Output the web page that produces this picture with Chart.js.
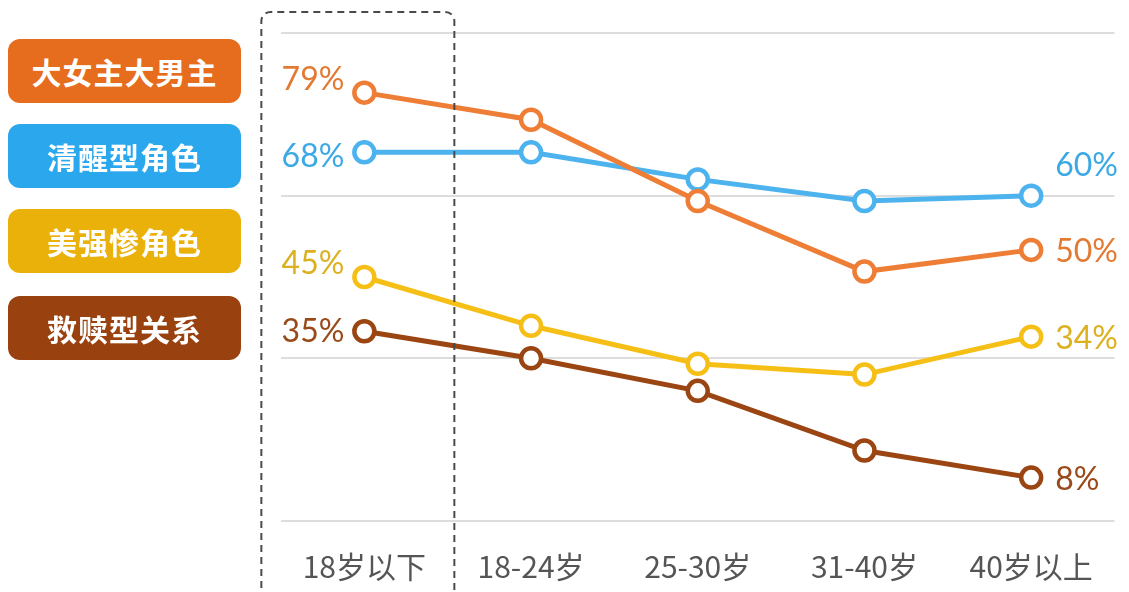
<!DOCTYPE html>
<html><head><meta charset="utf-8">
<script src="https://cdn.jsdelivr.net/npm/chart.js@4.4.0/dist/chart.umd.min.js"></script>
<style>
html,body{margin:0;padding:0;background:#fff;width:1129px;height:592px;overflow:hidden;}
#wrap{position:relative;width:1129px;height:592px;}
canvas{position:absolute;left:0;top:0;}
.lg{position:absolute;left:8px;width:233px;height:64px;border-radius:12px;color:#fff;font:bold 30px "Noto Sans CJK SC",sans-serif;display:flex;align-items:center;justify-content:center;letter-spacing:1px;}
</style></head>
<body><div id="wrap"><canvas id="c" width="1129" height="592"></canvas><div id="legend"></div></div>
<script>
const categories = ["18岁以下","18-24岁","25-30岁","31-40岁","40岁以上"];
const seriesNames = ["大女主大男主","清醒型角色","美强惨角色","救赎型关系"];
const valuesHeroine = [79, 74, 59, 46, 50];
const valuesSober = [68, 68, 63, 59, 60];
const valuesTragic = [45, 36, 29, 27, 34];
const valuesRedemption = [35, 30, 24, 13, 8];
const yTicks = [0, 30, 60, 90];

const lineColors = ["#EE7D36","#4DB3EE","#F5BF16","#9A4512"];
const boxColors = ["#E66C1E","#2BA7EE","#EBB10B","#9A420F"];
const textColors = ["#E27A34","#3BA9E3","#DDB020","#9A4A1A"];
const boxTops = [39,124,209,296];
// label offsets [dx, dy] for first and last points
const firstOffsets = [[-20,-13],[-20,4],[-20,-13],[-20,0]];
const lastOffsets = [[24,2],[24,-30],[24,2],[24,2]];

const legend = document.getElementById('legend');
seriesNames.forEach((n,i)=>{
  const d=document.createElement('div');d.className='lg';d.textContent=n;
  d.style.top=boxTops[i]+'px';d.style.background=boxColors[i];legend.appendChild(d);
});

const allValues=[valuesHeroine,valuesSober,valuesTragic,valuesRedemption];

const labelPlugin={
  id:'labels',
  afterDatasetsDraw(chart){
    const ctx=chart.ctx;
    const xs=chart.scales.x;
    const x0=xs.getPixelForValue(0);
    const L=x0-103,R=x0+90,T=12,B=600,r=9;
    ctx.save();
    ctx.strokeStyle='#4a4a4a';ctx.lineWidth=2;ctx.setLineDash([7,5]);
    ctx.beginPath();
    ctx.moveTo(L,B);ctx.lineTo(L,T+r);ctx.arcTo(L,T,L+r,T,r);ctx.lineTo(R-r,T);ctx.arcTo(R,T,R,T+r,r);ctx.lineTo(R,B);
    ctx.stroke();
    ctx.restore();
    ctx.save();
    ctx.font='400 32px "Lato","Noto Sans",sans-serif';
    ctx.textBaseline='middle';
    chart.data.datasets.forEach((ds,i)=>{
      const meta=chart.getDatasetMeta(i);
      const n=meta.data.length;
      const p0=meta.data[0],p1=meta.data[n-1];
      ctx.fillStyle=textColors[i];
      ctx.textAlign='right';
      ctx.fillText(ds.data[0]+'%',p0.x+firstOffsets[i][0],p0.y+firstOffsets[i][1]);
      ctx.textAlign='left';
      ctx.fillText(ds.data[n-1]+'%',p1.x+lastOffsets[i][0],p1.y+lastOffsets[i][1]);
    });
    ctx.restore();
  }
};

new Chart(document.getElementById('c'),{
  type:'line',
  data:{labels:categories,datasets:allValues.map((v,i)=>({
    label:seriesNames[i],data:v,borderColor:lineColors[i],backgroundColor:'#fff',
    borderWidth:5,pointRadius:10,pointBorderWidth:4.5,pointBackgroundColor:'#fff',pointBorderColor:lineColors[i],
    tension:0,clip:false
  }))},
  options:{
    responsive:false,animation:false,
    layout:{padding:{left:281,right:10,top:33,bottom:0}},
    plugins:{legend:{display:false},tooltip:{enabled:false}},
    scales:{
      x:{offset:true,grid:{display:false},border:{display:false},
        afterFit(s){s.height=71;s.paddingLeft=0;s.paddingRight=0;},
        ticks:{color:'#555',font:{size:30,family:'"Noto Sans CJK SC",sans-serif'},padding:20}},
      y:{min:0,max:90,afterBuildTicks(s){s.ticks=yTicks.map(v=>({value:v}));},
        grid:{color:'#DDDDDD',lineWidth:2,drawTicks:false},border:{display:false},
        ticks:{display:false}}
    }
  },
  plugins:[labelPlugin]
});
</script></body></html>
